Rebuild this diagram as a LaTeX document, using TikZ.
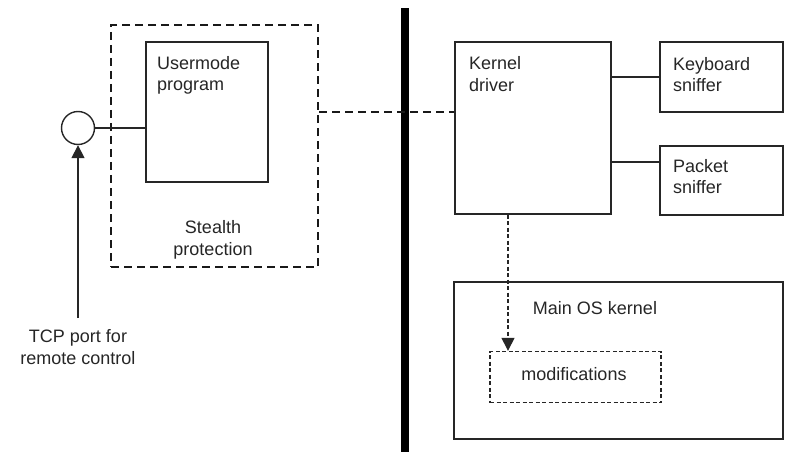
\documentclass[tikz,border=0pt]{standalone}
\usepackage{fontspec}
\setmainfont{Liberation Sans}
\usetikzlibrary{arrows.meta}
\begin{document}
\begin{tikzpicture}[x=1pt,y=-1pt,
  box/.style={draw=black!85,line width=1.4pt,rectangle,inner sep=0pt},
  dashbox/.style={draw=black!90,line width=2.4pt,dash pattern=on 8pt off 5pt,rectangle,inner sep=0pt},
  dotbox/.style={draw=black!85,line width=1.4pt,dash pattern=on 4pt off 2.5pt,rectangle,inner sep=0pt},
  txt/.style={font=\fontsize{18}{21.5}\selectfont,inner sep=0pt,text=black!85},
  tri/.style={-{Triangle[width=13pt,length=13pt]}}
]
\useasboundingbox (0,0) rectangle (800,468);
% left side
\node[dashbox,minimum width=207,minimum height=242] (stealth) at (214.5,146) {};
\node[box,minimum width=122,minimum height=140] (um) at (207,112) {};
\node[draw=black!85,line width=1.4pt,circle,minimum size=33,inner sep=0pt] (port) at (78,128) {};
\node[txt,anchor=base west,align=left] (umt) at (157,91) {Usermode\\program};
\node[txt,anchor=base,align=center] (stt) at (213,255) {Stealth\\protection};
\node[txt,anchor=base,align=center] (tcp) at (78,364) {TCP port for\\remote control};
% separator bar
\node[fill=black,minimum width=8,minimum height=444,inner sep=0pt] (bar) at (405,230) {};
% right side
\node[box,minimum width=156,minimum height=172] (kd) at (533,128) {};
\node[box,minimum width=123,minimum height=70] (kb) at (721.5,77) {};
\node[box,minimum width=123,minimum height=69] (pk) at (721.5,180.5) {};
\node[box,minimum width=329,minimum height=157] (os) at (618.5,360.5) {};
\node[dotbox,minimum width=171,minimum height=51] (mod) at (575.5,377) {};
\node[txt,anchor=base west,align=left] (kdt) at (469,91.5) {Kernel\\driver};
\node[txt,anchor=base west,align=left] (kbt) at (673,92) {Keyboard\\sniffer};
\node[txt,anchor=base west,align=left] (pkt) at (673,193.5) {Packet\\sniffer};
\node[txt,anchor=base] (ost) at (595,314) {Main OS kernel};
\node[txt,anchor=base] (modt) at (574,380) {modifications};
% connectors
\draw[black!85,line width=1.4pt] (port.east) -- (um.west |- port.east);
\draw[black!85,line width=1.6pt,tri] (port.south |- 0,318) -- (port.south);
\draw[black!90,line width=2.4pt,dash pattern=on 8pt off 5pt] (stealth.east |- 0,112) -- (kd.west |- 0,112);
\draw[black!85,line width=1.4pt] (kd.east |- kb.west) -- (kb.west);
\draw[black!85,line width=1.4pt] (kd.east |- 0,162) -- (pk.west |- 0,162);
\draw[black!85,line width=1.4pt,dash pattern=on 4pt off 2.5pt,tri] (kd.south -| 508,0) -- (mod.north -| 508,0);
\end{tikzpicture}
\end{document}
